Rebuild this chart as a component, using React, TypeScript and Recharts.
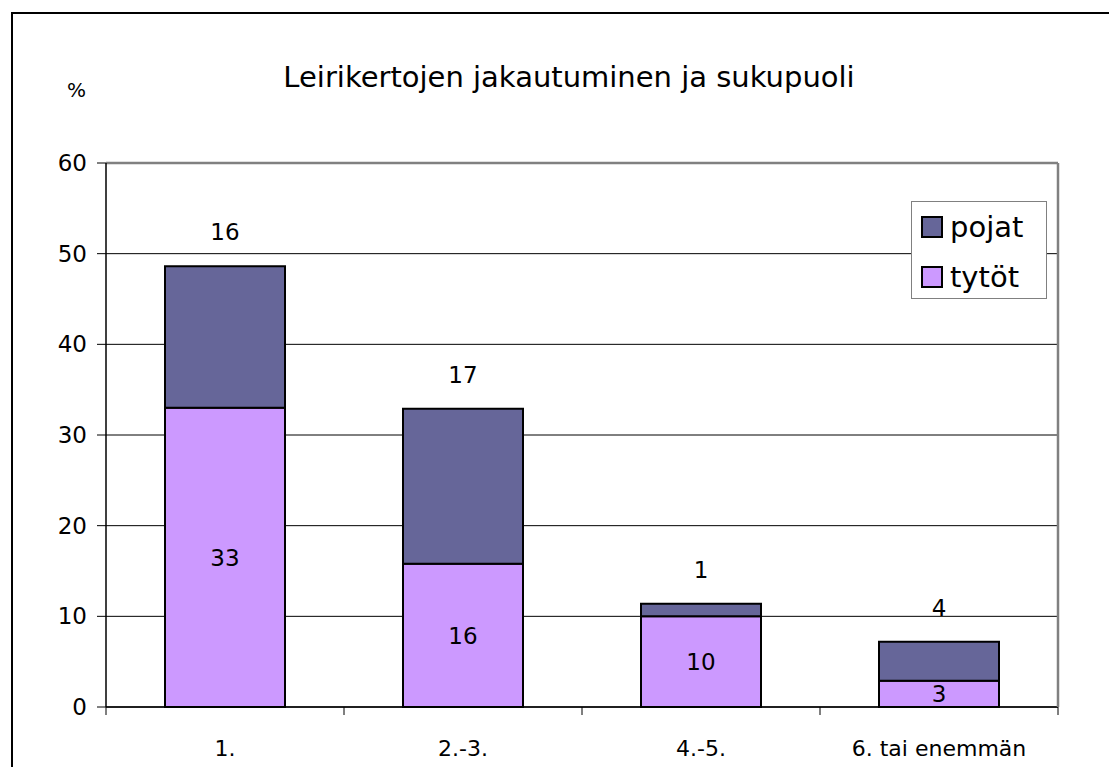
import { BarChart, Bar, XAxis, YAxis, CartesianGrid, ReferenceLine, LabelList } from "recharts"

// leirikerrat (number of camp times)
const categories = ["1.", "2.-3.", "4.-5.", "6. tai enemmän"]
const tytot = [33, 15.8, 10, 2.9]
const pojat = [15.6, 17.1, 1.4, 4.3]
const yTicks = [0, 10, 20, 30, 40, 50, 60]

const seriesNames = { tytot: "tytöt", pojat: "pojat" }
const colors = { tytot: "#CC99FF", pojat: "#666699" }

const W = 1109
const H = 767
const PLOT_LEFT = 106
const PLOT_RIGHT = 1058
const PLOT_TOP = 163
const PLOT_BOTTOM = 707
const Y_AXIS_W = 60
const X_AXIS_H = 50
const FONT = "'DejaVu Sans', Verdana, sans-serif"

const data = categories.map((c, i) => ({ name: c, tytot: tytot[i], pojat: pojat[i] }))
const band = (PLOT_RIGHT - PLOT_LEFT) / categories.length

function XTick(props: any) {
  const { x, y, payload, index } = props
  const left = x - band / 2
  return (
    <g>
      <line x1={left} y1={y} x2={left} y2={y + 8} stroke="#000" strokeWidth={1} />
      {index === categories.length - 1 && (
        <line x1={x + band / 2} y1={y} x2={x + band / 2} y2={y + 8} stroke="#000" strokeWidth={1} />
      )}
      <text x={x} y={y + 49} textAnchor="middle" fontSize={22} fontFamily={FONT} fill="#000">
        {payload.value}
      </text>
    </g>
  )
}

const round = (v: any) => Math.round(Number(v))

export default function App() {
  return (
    <div style={{ position: "absolute", left: 0, top: 0, width: W, height: H, background: "#fff", fontFamily: FONT, overflow: "hidden" }}>
      <div
        style={{
          position: "absolute",
          left: 11,
          top: 12,
          width: W - 11,
          height: H - 12,
          borderLeft: "2px solid #000",
          borderTop: "2px solid #000",
          boxSizing: "border-box",
        }}
      />
      <div style={{ position: "absolute", left: 269, top: 63, width: 600, textAlign: "center", fontSize: 29, lineHeight: "29px", color: "#000" }}>
        Leirikertojen jakautuminen ja sukupuoli
      </div>
      <div style={{ position: "absolute", left: 67, top: 80, fontSize: 20, lineHeight: "20px", color: "#000" }}>%</div>

      <div style={{ position: "absolute", left: 0, top: 0 }}>
        <BarChart
          width={W}
          height={H}
          data={data}
          margin={{ top: PLOT_TOP, right: W - PLOT_RIGHT - 1, bottom: H - PLOT_BOTTOM - X_AXIS_H, left: PLOT_LEFT - Y_AXIS_W }}
          barSize={120}
        >
          <CartesianGrid vertical={false} stroke="#000" strokeWidth={1} />
          <XAxis
            dataKey="name"
            height={X_AXIS_H}
            tickLine={false}
            tickSize={0}
            tickMargin={0}
            axisLine={{ stroke: "#000", strokeWidth: 1.5 }}
            tick={<XTick />}
            interval={0}
          />
          <YAxis
            width={Y_AXIS_W}
            domain={[0, 60]}
            ticks={yTicks}
            interval={0}
            tickSize={9}
            tickMargin={10}
            axisLine={{ stroke: "#000", strokeWidth: 1.5 }}
            tickLine={{ stroke: "#000" }}
            tick={{ fontSize: 23, fill: "#000", fontFamily: FONT }}
          />
          <YAxis
            yAxisId="right"
            orientation="right"
            width={1}
            domain={[0, 60]}
            tick={false}
            tickLine={false}
            axisLine={{ stroke: "#808080", strokeWidth: 2.5 }}
          />
          <ReferenceLine y={60} stroke="#808080" strokeWidth={2.5} />
          <Bar dataKey="tytot" stackId="a" fill={colors.tytot} stroke="#000" strokeWidth={2} isAnimationActive={false}>
            <LabelList dataKey="tytot" position="center" formatter={round} fontSize={23} fill="#000" fontFamily={FONT} />
          </Bar>
          <Bar dataKey="pojat" stackId="a" fill={colors.pojat} stroke="#000" strokeWidth={2} isAnimationActive={false}>
            <LabelList dataKey="pojat" position="top" offset={26} formatter={round} fontSize={23} fill="#000" fontFamily={FONT} />
          </Bar>
        </BarChart>
      </div>

      <div
        style={{
          position: "absolute",
          left: 911,
          top: 201,
          width: 136,
          height: 98,
          border: "1.5px solid #808080",
          background: "#fff",
          boxSizing: "border-box",
        }}
      >
        {(["pojat", "tytot"] as const).map((k, i) => (
          <div key={k} style={{ position: "absolute", left: 9, top: 14 + i * 50, display: "flex", alignItems: "center", height: 22 }}>
            <div style={{ width: 22, height: 22, boxSizing: "border-box", border: "2px solid #000", background: colors[k] }} />
            <span style={{ marginLeft: 7, fontSize: 29, lineHeight: "22px", color: "#000" }}>{seriesNames[k]}</span>
          </div>
        ))}
      </div>
    </div>
  )
}
